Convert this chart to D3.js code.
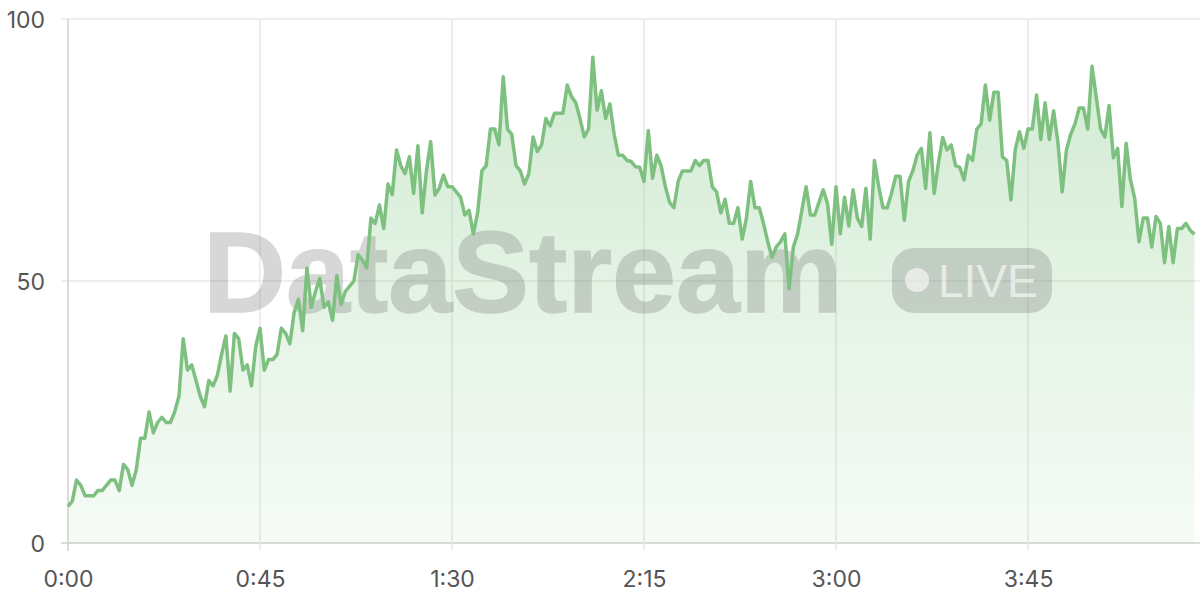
<!DOCTYPE html>
<html><head><meta charset="utf-8">
<script src="https://cdn.jsdelivr.net/npm/d3@7"></script>
<style>html,body{margin:0;padding:0;background:#fff;}svg{display:block}</style>
</head><body>
<svg id="chart" width="1200" height="600"></svg>
<script>
// values, one per second (0..264)
const values = [
 7,8,12,11,9,9,9,10,10,11, 12,12,10,15,14,11,14,20,20,25,
 21,23,24,23,23,25,28,39,33,34, 31,28,26,31,30,32,36,39.5,29,40,
 39,33,34,30,37.5,41,33,35,35,36, 41,40,38,44,46.5,40.5,52.5,45,48,50.5,
 45,46,42.5,51,45.5,48,49,50,55,54, 52.5,62,61,64.5,60,68.5,66.5,75,72,70.5,
 73.7,66.7,75.8,63,71,76.6,66.4,67.7,70.2,68, 68,67,66,62.6,63.5,59,63,71,72,79,
 79,76,89,79,78,72,71,68.5,70.5,77.5, 74.7,76,81,79.6,82,82,82,87.4,85.2,84,
 81,77.5,79,92.7,82.6,86.3,81,83.8,78,74, 74,73,72.8,71.8,71.7,69,78.7,69.6,74,72,
 68,65,64,69,71,71,71,73,72,73, 73,68,67,63,65.6,61,61,64,58,62,
 69,64,64,61,57.5,54.5,56.5,57.5,59,48.5, 56.5,59,63.5,68,62.6,62.6,65,67.4,64.8,57,
 68,59,66,60.5,67.4,62,60.4,67.7,58,73, 68,64,64,66.7,70,70,61.6,69,71,74,
 75.3,67.7,78.3,66.7,72.5,77.4,75,76,72,71.7, 69.3,74,73,79,80,87.4,80.7,86,86,73.7,
 73,65.5,75,78.5,75.3,79,79,85.5,77,84, 77,82.5,76.5,67,75,78,80,83,83,79,
 91,85,79,77.5,83.5,73.5,75.3,64.2,76.3,69.3, 65.8,57.5,62,62,56.5,62.3,61,53.5,60.4,53.5,
 60,60,61,59.7,58.9
];
const seconds = values.map((v, i) => i);
const xTicks = [0, 45, 90, 135, 180, 225];
const xTickLabels = ["0:00", "0:45", "1:30", "2:15", "3:00", "3:45"];
const yTicks = [0, 50, 100];
const yTickLabels = ["0", "50", "100"];
const watermark = "DataStream";
const badge = "LIVE";

const data = seconds.map((s, i) => ({ s, v: values[i] }));

const svg = d3.select("#chart");
const x = d3.scaleLinear().domain([0, 265]).range([68, 1198.7]);
const y = d3.scaleLinear().domain([0, 100]).range([543, 19]);

const defs = svg.append("defs");
const grad = defs.append("linearGradient").attr("id", "fillGrad")
  .attr("gradientUnits", "userSpaceOnUse")
  .attr("x1", 0).attr("x2", 0).attr("y1", y(100)).attr("y2", y(0));
grad.append("stop").attr("offset", 0).attr("stop-color", "#81c784").attr("stop-opacity", 0.38);
grad.append("stop").attr("offset", 1).attr("stop-color", "#81c784").attr("stop-opacity", 0.07);

// grid
const grid = svg.append("g");
grid.selectAll("line.h").data(yTicks).join("line")
  .attr("x1", 61).attr("x2", 1200)
  .attr("y1", d => y(d)).attr("y2", d => y(d))
  .attr("stroke", d => d === 0 ? "#cfcfcf" : "#e8e8e8").attr("stroke-width", 1.5);
grid.selectAll("line.v").data(xTicks).join("line")
  .attr("x1", d => x(d)).attr("x2", d => x(d))
  .attr("y1", 19).attr("y2", 551)
  .attr("stroke", d => d === 0 ? "#cfcfcf" : "#e8e8e8").attr("stroke-width", 1.5);

// area
const area = d3.area().x(d => x(d.s)).y0(y(0)).y1(d => y(d.v));
svg.append("path").datum(data).attr("d", area).attr("fill", "url(#fillGrad)");

// watermark
const wm = svg.append("g").attr("opacity", 0.25);
wm.append("text").attr("x", 203).attr("y", 312)
  .attr("font-family", "Liberation Sans, Arial, sans-serif").attr("font-weight", 700)
  .attr("font-size", 115).attr("fill", "rgb(100,100,100)")
  .attr("stroke", "rgb(100,100,100)").attr("stroke-width", 1.5)
  .text(watermark);
svg.append("rect").attr("x", 892).attr("y", 248).attr("width", 160).attr("height", 65)
  .attr("rx", 22).attr("fill", "rgb(100,100,100)").attr("fill-opacity", 0.25);
svg.append("circle").attr("cx", 917).attr("cy", 280).attr("r", 12)
  .attr("fill", "#fff").attr("fill-opacity", 0.6);
svg.append("text").attr("x", 938).attr("y", 297)
  .attr("font-family", "Liberation Sans, Arial, sans-serif").attr("font-weight", 400)
  .attr("font-size", 46).attr("fill", "#fff").attr("fill-opacity", 0.6)
  .text(badge);

// line
const line = d3.line().x(d => x(d.s)).y(d => y(d.v));
svg.append("path").datum(data).attr("d", line)
  .attr("fill", "none").attr("stroke", "#7dc07f").attr("stroke-width", 3.5)
  .attr("stroke-linejoin", "round");

// axes labels
const yAxis = d3.axisLeft(y).tickValues(yTicks).tickSize(0).tickPadding(0)
  .tickFormat((d, i) => yTickLabels[i]);
const ya = svg.append("g").attr("transform", "translate(45,0)").call(yAxis);
ya.select(".domain").remove();
ya.selectAll("text").attr("font-family", "Inter, sans-serif").attr("font-size", 23)
  .attr("fill", "#555").attr("dy", "0.35em");

const xAxis = d3.axisBottom(x).tickValues(xTicks).tickSize(0).tickPadding(0)
  .tickFormat((d, i) => xTickLabels[i]);
const xa = svg.append("g").attr("transform", "translate(0,579)").call(xAxis);
xa.select(".domain").remove();
xa.selectAll("text").attr("font-family", "Inter, sans-serif").attr("font-size", 23)
  .attr("fill", "#555").attr("dy", "0.35em");
</script>
</body></html>
